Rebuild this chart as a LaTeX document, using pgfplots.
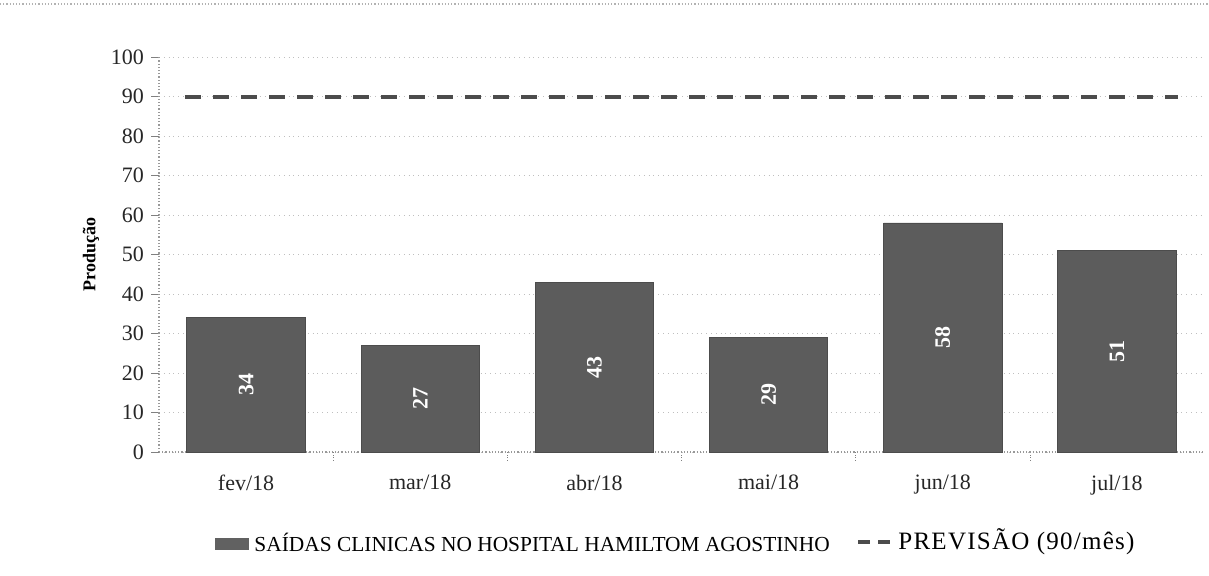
\documentclass[border=0pt]{standalone}
\usepackage{pgfplots}
\pgfplotsset{compat=1.18}
\usepackage{fontspec}
\setmainfont{Liberation Serif}
\begin{document}
\begin{tikzpicture}[x=1pt,y=1pt]
\useasboundingbox (-79.5pt,-61.5pt) rectangle (525pt,226pt);
\draw[gray!60, densely dotted, line width=0.6pt] (-79.5pt,224pt) -- (525pt,224pt);
\begin{axis}[
  at={(0pt,0pt)}, anchor=south west,
  scale only axis,
  width=522.5pt, height=197.5pt,
  xmin=-0.5, xmax=5.5,
  ymin=0, ymax=100,
  ytick={0,10,...,100},
  xtick={0,1,2,3,4,5},
  xticklabels={fev/18,mar/18,abr/18,mai/18,jun/18,jul/18},
  minor xtick={0.5,1.5,2.5,3.5,4.5},
  major x tick style={draw=none},
  minor x tick style={gray, densely dotted},
  minor tick length=4pt,
  y tick style={gray},
  major tick length=4pt,
  tick align=outside,
  xtick pos=bottom, ytick pos=left,
  axis x line*=bottom,
  axis y line*=left,
  axis line style={gray!80, densely dotted, line width=0.6pt},
  ymajorgrids,
  grid style={gray!50, dotted, line width=0.5pt},
  tick label style={font=\fontsize{11}{13}\selectfont, black!85},
  /pgf/number format/assume math mode=true,
  ylabel={\textbf{Produção}},
  ylabel style={font=\fontsize{9}{11}\selectfont, yshift=-1pt},
  xticklabel style={yshift=-4pt},
]
\addplot[ybar, bar width=0.68, fill=black!64, draw=black!70,
  visualization depends on={y \as \rawy},
  nodes near coords,
  every node near coord/.style={yshift={-0.9875*\rawy pt}, rotate=90, anchor=center, text=white,
    font=\fontsize{11}{13}\selectfont\bfseries}]
  coordinates {(0,34) (1,27) (2,43) (3,29) (4,58) (5,51)};
\addplot[black!70, line width=2pt, dash pattern=on 8pt off 6pt]
  coordinates {(-0.35,90) (5.35,90)};
\end{axis}
\node[anchor=west, font=\fontsize{10.7}{13}\selectfont, inner sep=0pt] at (28pt,-45pt)
  {\textcolor{black!62}{\rule[0.5pt]{17pt}{6pt}}\hspace{2.5pt}SAÍDAS CLINICAS NO HOSPITAL HAMILTOM AGOSTINHO};
\node[anchor=west, font=\fontsize{12.5}{14}\selectfont, inner sep=0pt] at (349.5pt,-45pt)
  {\textcolor{black!70}{\rule[3pt]{6pt}{2pt}\hspace{4pt}\rule[3pt]{6pt}{2pt}}\hspace{4pt}\addfontfeature{LetterSpace=5}PREVISÃO (90/mês)};
\end{tikzpicture}
\end{document}
